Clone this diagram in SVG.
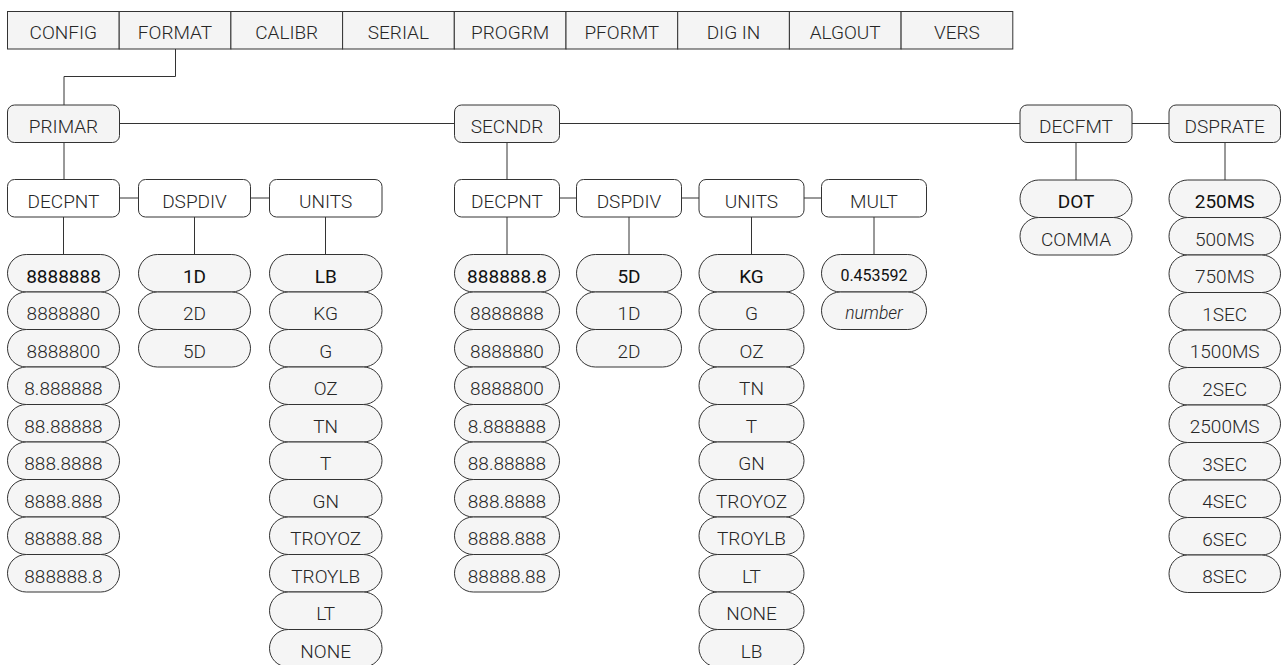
<svg xmlns="http://www.w3.org/2000/svg" width="1282" height="665" viewBox="0 0 1282 665">
<style>
text{font-family:Roboto,"Liberation Sans",Arial,sans-serif;font-size:19px;font-weight:300;fill:#262626;text-anchor:middle}
text.b{font-weight:400;fill:#111}
text.s{font-size:16px}
text.i{font-style:italic;font-size:17.5px}
.tab{fill:#f4f4f4;stroke:#333;stroke-width:1}
.g{fill:#f4f4f4;stroke:#333;stroke-width:1}
.w{fill:#fff;stroke:#333;stroke-width:1}
.p{fill:#f5f5f5;stroke:#333;stroke-width:1}
.c{fill:none;stroke:#333;stroke-width:1}
</style>
<rect width="1282" height="665" fill="#fff"/>
<g id="menu">
<rect class="tab" x="7.5" y="11.5" width="111.7" height="37.5"/>
<rect class="tab" x="119.2" y="11.5" width="111.7" height="37.5"/>
<rect class="tab" x="230.9" y="11.5" width="111.7" height="37.5"/>
<rect class="tab" x="342.6" y="11.5" width="111.7" height="37.5"/>
<rect class="tab" x="454.3" y="11.5" width="111.7" height="37.5"/>
<rect class="tab" x="566" y="11.5" width="111.7" height="37.5"/>
<rect class="tab" x="677.7" y="11.5" width="111.7" height="37.5"/>
<rect class="tab" x="789.4" y="11.5" width="111.7" height="37.5"/>
<rect class="tab" x="901.1" y="11.5" width="111.7" height="37.5"/>
<text x="63.3" y="38.5">CONFIG</text>
<text x="175" y="38.5">FORMAT</text>
<text x="286.7" y="38.5">CALIBR</text>
<text x="398.4" y="38.5">SERIAL</text>
<text x="510.1" y="38.5">PROGRM</text>
<text x="621.8" y="38.5">PFORMT</text>
<text x="733.5" y="38.5">DIG IN</text>
<text x="845.2" y="38.5">ALGOUT</text>
<text x="956.9" y="38.5">VERS</text>
</g>
<g id="connectors">
<path class="c" d="M175.5 49 V76.5 H64 V105"/>
<path class="c" d="M119.5 123.5 H454.5 M559.5 123.5 H1020 M1132 123.5 H1169"/>
<path class="c" d="M64 142.5 V179.5 M507 142.5 V179.5 M1076 142.5 V180 M1225 142.5 V180"/>
<path class="c" d="M119.5 198 H138.5 M250.5 198 H269.5 M559.5 198 H576.5 M681.5 198 H699 M804 198 H821.5"/>
<path class="c" d="M63.5 217 V254.5 M194.5 217 V254.5 M325.5 217 V254.5 M507 217 V254.5 M629 217 V254.5 M751.5 217 V254.5 M874 217 V254.5"/>
</g>
<g id="primar"><rect class="g" x="7.5" y="105" width="112" height="37.5" rx="7"/><text x="63.5" y="133">PRIMAR</text></g>
<g id="secndr"><rect class="g" x="454.5" y="105" width="105" height="37.5" rx="7"/><text x="507" y="133">SECNDR</text></g>
<g id="decfmt"><rect class="g" x="1020" y="105" width="112" height="37.5" rx="7"/><text x="1076" y="133">DECFMT</text></g>
<g id="dsprate"><rect class="g" x="1169" y="105" width="111.5" height="37.5" rx="7"/><text x="1224.7" y="133">DSPRATE</text></g>
<g id="p-decpnt"><rect class="w" x="7.5" y="179.5" width="112" height="37.5" rx="7"/><text x="63.5" y="207.5">DECPNT</text></g>
<g id="p-dspdiv"><rect class="w" x="138.5" y="179.5" width="112" height="37.5" rx="7"/><text x="194.5" y="207.5">DSPDIV</text></g>
<g id="p-units"><rect class="w" x="269.5" y="179.5" width="112.5" height="37.5" rx="7"/><text x="325.7" y="207.5">UNITS</text></g>
<g id="s-decpnt"><rect class="w" x="454.5" y="179.5" width="105" height="37.5" rx="7"/><text x="507" y="207.5">DECPNT</text></g>
<g id="s-dspdiv"><rect class="w" x="576.5" y="179.5" width="105" height="37.5" rx="7"/><text x="629" y="207.5">DSPDIV</text></g>
<g id="s-units"><rect class="w" x="699" y="179.5" width="105" height="37.5" rx="7"/><text x="751.5" y="207.5">UNITS</text></g>
<g id="s-mult"><rect class="w" x="821.5" y="179.5" width="105" height="37.5" rx="7"/><text x="874" y="207.5">MULT</text></g>
<g id="p-decpnt-values">
<rect class="p" x="7.5" y="254.5" width="112" height="37.5" rx="18.75"/>
<rect class="p" x="7.5" y="292" width="112" height="37.5" rx="18.75"/>
<rect class="p" x="7.5" y="329.5" width="112" height="37.5" rx="18.75"/>
<rect class="p" x="7.5" y="367" width="112" height="37.5" rx="18.75"/>
<rect class="p" x="7.5" y="404.5" width="112" height="37.5" rx="18.75"/>
<rect class="p" x="7.5" y="442" width="112" height="37.5" rx="18.75"/>
<rect class="p" x="7.5" y="479.5" width="112" height="37.5" rx="18.75"/>
<rect class="p" x="7.5" y="517" width="112" height="37.5" rx="18.75"/>
<rect class="p" x="7.5" y="554.5" width="112" height="37.5" rx="18.75"/>
<text class="b" x="63.5" y="282.5">8888888</text>
<text x="63.5" y="320">8888880</text>
<text x="63.5" y="357.5">8888800</text>
<text x="63.5" y="395">8.888888</text>
<text x="63.5" y="432.5">88.88888</text>
<text x="63.5" y="470">888.8888</text>
<text x="63.5" y="507.5">8888.888</text>
<text x="63.5" y="545">88888.88</text>
<text x="63.5" y="582.5">888888.8</text>
</g>
<g id="p-dspdiv-values">
<rect class="p" x="138.5" y="254.5" width="112" height="37.5" rx="18.75"/>
<rect class="p" x="138.5" y="292" width="112" height="37.5" rx="18.75"/>
<rect class="p" x="138.5" y="329.5" width="112" height="37.5" rx="18.75"/>
<text class="b" x="194.5" y="282.5">1D</text>
<text x="194.5" y="320">2D</text>
<text x="194.5" y="357.5">5D</text>
</g>
<g id="p-units-values">
<rect class="p" x="269.5" y="254.5" width="112.5" height="37.5" rx="18.75"/>
<rect class="p" x="269.5" y="292" width="112.5" height="37.5" rx="18.75"/>
<rect class="p" x="269.5" y="329.5" width="112.5" height="37.5" rx="18.75"/>
<rect class="p" x="269.5" y="367" width="112.5" height="37.5" rx="18.75"/>
<rect class="p" x="269.5" y="404.5" width="112.5" height="37.5" rx="18.75"/>
<rect class="p" x="269.5" y="442" width="112.5" height="37.5" rx="18.75"/>
<rect class="p" x="269.5" y="479.5" width="112.5" height="37.5" rx="18.75"/>
<rect class="p" x="269.5" y="517" width="112.5" height="37.5" rx="18.75"/>
<rect class="p" x="269.5" y="554.5" width="112.5" height="37.5" rx="18.75"/>
<rect class="p" x="269.5" y="592" width="112.5" height="37.5" rx="18.75"/>
<rect class="p" x="269.5" y="629.5" width="112.5" height="37.5" rx="18.75"/>
<text class="b" x="325.7" y="282.5">LB</text>
<text x="325.7" y="320">KG</text>
<text x="325.7" y="357.5">G</text>
<text x="325.7" y="395">OZ</text>
<text x="325.7" y="432.5">TN</text>
<text x="325.7" y="470">T</text>
<text x="325.7" y="507.5">GN</text>
<text x="325.7" y="545">TROYOZ</text>
<text x="325.7" y="582.5">TROYLB</text>
<text x="325.7" y="620">LT</text>
<text x="325.7" y="657.5">NONE</text>
</g>
<g id="s-decpnt-values">
<rect class="p" x="454.5" y="254.5" width="105" height="37.5" rx="18.75"/>
<rect class="p" x="454.5" y="292" width="105" height="37.5" rx="18.75"/>
<rect class="p" x="454.5" y="329.5" width="105" height="37.5" rx="18.75"/>
<rect class="p" x="454.5" y="367" width="105" height="37.5" rx="18.75"/>
<rect class="p" x="454.5" y="404.5" width="105" height="37.5" rx="18.75"/>
<rect class="p" x="454.5" y="442" width="105" height="37.5" rx="18.75"/>
<rect class="p" x="454.5" y="479.5" width="105" height="37.5" rx="18.75"/>
<rect class="p" x="454.5" y="517" width="105" height="37.5" rx="18.75"/>
<rect class="p" x="454.5" y="554.5" width="105" height="37.5" rx="18.75"/>
<text class="b" x="507" y="282.5">888888.8</text>
<text x="507" y="320">8888888</text>
<text x="507" y="357.5">8888880</text>
<text x="507" y="395">8888800</text>
<text x="507" y="432.5">8.888888</text>
<text x="507" y="470">88.88888</text>
<text x="507" y="507.5">888.8888</text>
<text x="507" y="545">8888.888</text>
<text x="507" y="582.5">88888.88</text>
</g>
<g id="s-dspdiv-values">
<rect class="p" x="576.5" y="254.5" width="105" height="37.5" rx="18.75"/>
<rect class="p" x="576.5" y="292" width="105" height="37.5" rx="18.75"/>
<rect class="p" x="576.5" y="329.5" width="105" height="37.5" rx="18.75"/>
<text class="b" x="629" y="282.5">5D</text>
<text x="629" y="320">1D</text>
<text x="629" y="357.5">2D</text>
</g>
<g id="s-units-values">
<rect class="p" x="699" y="254.5" width="105" height="37.5" rx="18.75"/>
<rect class="p" x="699" y="292" width="105" height="37.5" rx="18.75"/>
<rect class="p" x="699" y="329.5" width="105" height="37.5" rx="18.75"/>
<rect class="p" x="699" y="367" width="105" height="37.5" rx="18.75"/>
<rect class="p" x="699" y="404.5" width="105" height="37.5" rx="18.75"/>
<rect class="p" x="699" y="442" width="105" height="37.5" rx="18.75"/>
<rect class="p" x="699" y="479.5" width="105" height="37.5" rx="18.75"/>
<rect class="p" x="699" y="517" width="105" height="37.5" rx="18.75"/>
<rect class="p" x="699" y="554.5" width="105" height="37.5" rx="18.75"/>
<rect class="p" x="699" y="592" width="105" height="37.5" rx="18.75"/>
<rect class="p" x="699" y="629.5" width="105" height="37.5" rx="18.75"/>
<text class="b" x="751.5" y="282.5">KG</text>
<text x="751.5" y="320">G</text>
<text x="751.5" y="357.5">OZ</text>
<text x="751.5" y="395">TN</text>
<text x="751.5" y="432.5">T</text>
<text x="751.5" y="470">GN</text>
<text x="751.5" y="507.5">TROYOZ</text>
<text x="751.5" y="545">TROYLB</text>
<text x="751.5" y="582.5">LT</text>
<text x="751.5" y="620">NONE</text>
<text x="751.5" y="657.5">LB</text>
</g>
<g id="s-mult-values">
<rect class="p" x="821.5" y="254.5" width="105" height="37.5" rx="18.75"/>
<rect class="p" x="821.5" y="292" width="105" height="37.5" rx="18.75"/>
<text class="b s" x="874" y="281">0.453592</text>
<text class="i" x="874" y="319">number</text>
</g>
<g id="decfmt-values">
<rect class="p" x="1020" y="180" width="112" height="37.5" rx="18.75"/>
<rect class="p" x="1020" y="217.5" width="112" height="37.5" rx="18.75"/>
<text class="b" x="1076" y="208">DOT</text>
<text x="1076" y="245.5">COMMA</text>
</g>
<g id="dsprate-values">
<rect class="p" x="1169" y="180" width="111.5" height="37.5" rx="18.75"/>
<rect class="p" x="1169" y="217.5" width="111.5" height="37.5" rx="18.75"/>
<rect class="p" x="1169" y="255" width="111.5" height="37.5" rx="18.75"/>
<rect class="p" x="1169" y="292.5" width="111.5" height="37.5" rx="18.75"/>
<rect class="p" x="1169" y="330" width="111.5" height="37.5" rx="18.75"/>
<rect class="p" x="1169" y="367.5" width="111.5" height="37.5" rx="18.75"/>
<rect class="p" x="1169" y="405" width="111.5" height="37.5" rx="18.75"/>
<rect class="p" x="1169" y="442.5" width="111.5" height="37.5" rx="18.75"/>
<rect class="p" x="1169" y="480" width="111.5" height="37.5" rx="18.75"/>
<rect class="p" x="1169" y="517.5" width="111.5" height="37.5" rx="18.75"/>
<rect class="p" x="1169" y="555" width="111.5" height="37.5" rx="18.75"/>
<text class="b" x="1224.7" y="208">250MS</text>
<text x="1224.7" y="245.5">500MS</text>
<text x="1224.7" y="283">750MS</text>
<text x="1224.7" y="320.5">1SEC</text>
<text x="1224.7" y="358">1500MS</text>
<text x="1224.7" y="395.5">2SEC</text>
<text x="1224.7" y="433">2500MS</text>
<text x="1224.7" y="470.5">3SEC</text>
<text x="1224.7" y="508">4SEC</text>
<text x="1224.7" y="545.5">6SEC</text>
<text x="1224.7" y="583">8SEC</text>
</g>
</svg>
